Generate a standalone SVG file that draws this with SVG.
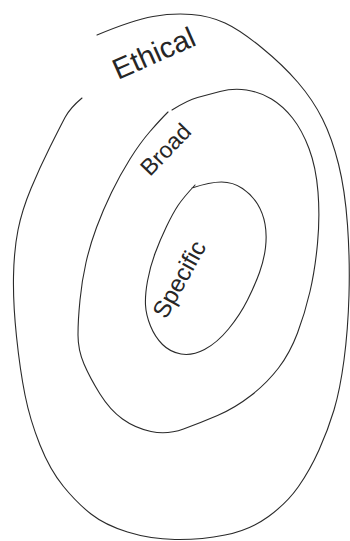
<svg xmlns="http://www.w3.org/2000/svg" width="350" height="541" viewBox="0 0 350 541">
<style>
.ring{fill:none;stroke:#2a2a2a;stroke-width:1.1;stroke-linecap:round;stroke-linejoin:round}
.lbl{font-family:"Liberation Sans","DejaVu Sans",sans-serif;fill:#262626}
</style>
<rect width="350" height="541" fill="#ffffff"/>
<g id="ring-ethical">
<path class="ring" d="M97,35 Q133,20 153,16.5 Q173,13 191.5,14.5 Q210,16 225,23 Q240,30 261.5,47.5 Q283,65 298,82.5 Q313,100 322.5,119 Q332,138 338.5,164 Q345,190 347.5,225 Q350,260 349,295 Q348,330 344,360 Q340,390 334,410 Q328,430 319,450 Q310,470 298.5,486.5 Q287,503 268.5,516.5 Q250,530 225,535 Q200,540 175,539.5 Q150,539 127.5,532 Q105,525 91,514 Q77,503 63.5,486.5 Q50,470 40,445 Q30,420 25,395 Q20,370 16.5,336.5 Q13,303 13.5,276.5 Q14,250 18,230 Q22,210 31,188.5 Q40,167 50,147 Q60,127 65,117.5 Q70,108 82,98"/>
<text class="lbl" x="118" y="80" font-size="29" transform="rotate(-24 118 80)">Ethical</text>
</g>
<g id="ring-broad">
<path class="ring" d="M168,112 Q160,120 150,131.5 Q140,143 130,159 Q120,175 111.5,192.5 Q103,210 96.5,227.5 Q90,245 86,262.5 Q82,280 80,300 Q78,320 78,335 Q78,350 84,364 Q90,378 100,394 Q110,410 122.5,419 Q135,428 151,431.5 Q167,435 183.5,429 Q200,423 217.5,415.5 Q235,408 251,395.5 Q267,383 278.5,368 Q290,353 297.5,333 Q305,313 310,291.5 Q315,270 317.5,243.5 Q320,217 318,192 Q316,167 309,148.5 Q302,130 292.5,118 Q283,106 271.5,99 Q260,92 246.5,90 Q233,88 220,91.5 Q207,95 197.5,97.5 Q188,100 172,110"/>
<text class="lbl" x="150" y="177" font-size="23" transform="rotate(-46 150 177)">Broad</text>
</g>
<g id="ring-specific">
<path class="ring" d="M192,188 Q210,182 221.5,182 Q233,182 242.5,188.5 Q252,195 257.5,204 Q263,213 265,224 Q267,235 265.5,247.5 Q264,260 259.5,272.5 Q255,285 247.5,300 Q240,315 228.5,329 Q217,343 204.5,349.5 Q192,356 181,354 Q170,352 162.5,344.5 Q155,337 150.5,326 Q146,315 145.5,305 Q145,295 147.5,281 Q150,267 155,253.5 Q160,240 166.5,226.5 Q173,213 178,205.5 Q183,198 195,185"/>
<text class="lbl" x="166" y="320" font-size="24" transform="rotate(-61 166 320)">Specific</text>
</g>
<g id="connectors"/>
</svg>
